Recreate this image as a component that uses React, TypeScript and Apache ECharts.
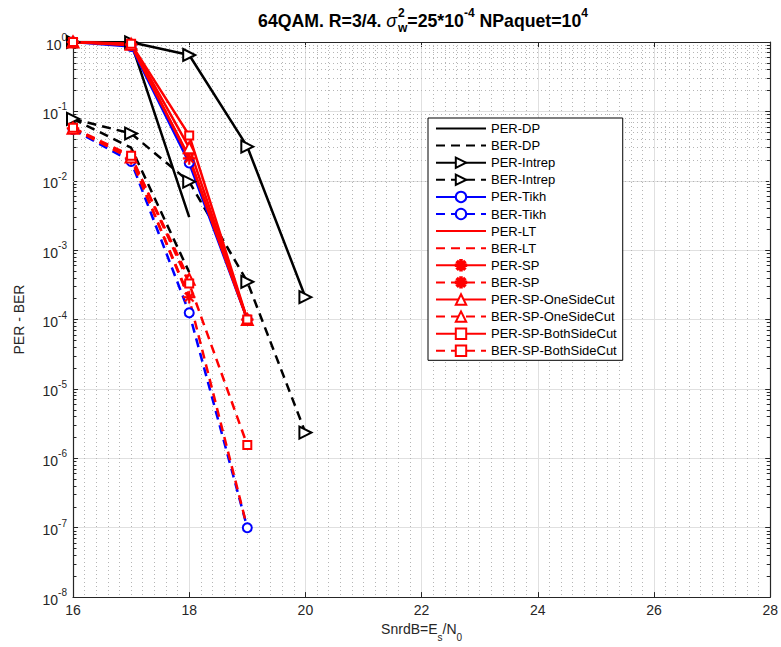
import React, { useEffect, useRef } from 'react';
import * as echarts from 'echarts';

// ---------- data ----------
const snr = [16, 17, 18, 19, 20];
const perDP = [1.0, 0.98, 0.003];
const berDP = [0.078, 0.03, 4.8e-4];
const perIntrep = [1.0, 0.99, 0.65, 0.031, 2.1e-4];
const berIntrep = [0.078, 0.048, 0.0097, 3.5e-4, 2.35e-6];
const perTikh = [1.0, 0.86, 0.018, 1e-4];
const berTikh = [0.055, 0.019, 1.25e-4, 1e-7];
const perLT = [1.0, 0.9, 0.022, 1e-4];
const berLT = [0.057, 0.021, 2.0e-4, 1e-7];
const perSP = [1.0, 0.92, 0.021, 1e-4];
const berSP = [0.057, 0.021, 2.1e-4];
const perOne = [1.0, 0.93, 0.03, 1e-4];
const berOne = [0.057, 0.022, 3.8e-4];
const perBoth = [1.0, 0.94, 0.045, 1e-4];
const berBoth = [0.058, 0.023, 3.3e-4, 1.55e-6];

const xMin = 16;
const xMax = 28;
const xStep = 2;
const yMin = 1e-8;
const yMax = 1;
const decadeExps = [-8, -7, -6, -5, -4, -3, -2, -1];
const minorMultipliers = [2, 3, 4, 5, 6, 7, 8, 9];

const FONT = '"Liberation Sans", Arial, Helvetica, sans-serif';
const BLACK = '#000000';
const BLUE = '#0000ff';
const RED = '#ff0000';
const AX = '#262626';
const DASH = [9, 6];
const STAR =
  'path://M8.5,0L11.5,0L11.5,20L8.5,20Z M0,8.5L20,8.5L20,11.5L0,11.5Z M3.99,1.87L18.13,16.01L16.01,18.13L1.87,3.99Z M18.13,3.99L3.99,18.13L1.87,16.01L16.01,1.87Z';

function mk(
  name: string,
  values: number[],
  color: string,
  dashed: boolean,
  symbol: string | null,
  size = 10,
  rotate = 0,
  border = 2.5
) {
  return {
    name,
    type: 'line',
    z: 3,
    data: values.map((v, i) => [snr[i], v]),
    symbol: symbol || 'none',
    showSymbol: !!symbol,
    symbolSize: size,
    symbolRotate: rotate,
    lineStyle: { color, width: 2.5, type: dashed ? DASH : 'solid' },
    itemStyle: { color, borderColor: color, borderWidth: border },
    emphasis: { disabled: true },
  };
}

const minorY: number[] = [];
decadeExps.forEach((e) => minorMultipliers.forEach((m) => minorY.push(m * Math.pow(10, e))));

function buildTitle() {
  const ctx = document.createElement('canvas').getContext('2d')!;
  const meas = (t: string, f: string) => {
    ctx.font = f;
    return ctx.measureText(t).width;
  };
  const fMain = `bold 17.7px ${FONT}`;
  const fSig = `italic 17.7px ${FONT}`;
  const fSmall = `bold 12px ${FONT}`;
  const els: any[] = [];
  let x = 0;
  const add = (t: string, f: string, dy: number) => {
    els.push({ type: 'text', x, y: dy, style: { text: t, font: f, fill: '#000', align: 'left', verticalAlign: 'middle' } });
    x += meas(t, f);
  };
  add('64QAM. R=3/4. ', fMain, 0);
  add('σ', fSig, 0);
  const x0 = x + 1;
  els.push({ type: 'text', x: x0, y: -8, style: { text: '2', font: fSmall, fill: '#000', verticalAlign: 'middle' } });
  els.push({ type: 'text', x: x0, y: 7, style: { text: 'w', font: fSmall, fill: '#000', verticalAlign: 'middle' } });
  x += Math.max(meas('2', fSmall), meas('w', fSmall)) + 1;
  add('=25*10', fMain, 0);
  add('-4', fSmall, -8);
  add(' NPaquet=10', fMain, 0);
  add('4', fSmall, -8);
  return { type: 'group', x: 423 - x / 2, y: 21, children: els };
}

function buildOption() {
  const tickSegs: any[] = [];
  minorY.forEach((v) => {
    tickSegs.push([{ coord: [xMin, v] }, { coord: [xMin + 0.06, v] }]);
    tickSegs.push([{ coord: [xMax - 0.06, v] }, { coord: [xMax, v] }]);
  });
  const noSymbol = new Set(['PER-DP', 'BER-DP', 'PER-LT', 'BER-LT']);
  const series: any[] = [
    {
      name: '_grid',
      type: 'line',
      data: [],
      z: 1,
      silent: true,
      markLine: {
        silent: true,
        symbol: ['none', 'none'],
        label: { show: false },
        z: 1,
        lineStyle: { color: '#b5b5b5', type: [1, 3], width: 1 },
        data: minorY.map((v) => ({ yAxis: v })),
      },
    },
    {
      name: '_ticks',
      type: 'line',
      data: [],
      z: 2,
      silent: true,
      markLine: {
        silent: true,
        symbol: ['none', 'none'],
        label: { show: false },
        z: 2,
        lineStyle: { color: AX, type: 'solid', width: 1 },
        data: tickSegs,
      },
    },
    mk('PER-DP', perDP, BLACK, false, null),
    mk('BER-DP', berDP, BLACK, true, null),
    mk('PER-Intrep', perIntrep, BLACK, false, 'emptyTriangle', 12, -90),
    mk('BER-Intrep', berIntrep, BLACK, true, 'emptyTriangle', 12, -90),
    mk('PER-Tikh', perTikh, BLUE, false, 'emptyCircle', 9),
    mk('BER-Tikh', berTikh, BLUE, true, 'emptyCircle', 9),
    mk('PER-LT', perLT, RED, false, null),
    mk('BER-LT', berLT, RED, true, null),
    mk('PER-SP', perSP, RED, false, STAR, 12, 0, 0.5),
    mk('BER-SP', berSP, RED, true, STAR, 12, 0, 0.5),
    mk('PER-SP-OneSideCut', perOne, RED, false, 'emptyTriangle', 11),
    mk('BER-SP-OneSideCut', berOne, RED, true, 'emptyTriangle', 11),
    mk('PER-SP-BothSideCut', perBoth, RED, false, 'emptyRect', 8),
    mk('BER-SP-BothSideCut', berBoth, RED, true, 'emptyRect', 8),
  ];
  const legendData = series
    .filter((s) => !s.name.startsWith('_'))
    .map((s) => (noSymbol.has(s.name) ? { name: s.name, itemStyle: { opacity: 0 } } : { name: s.name }));

  const yLabelRich = {
    b: { fontSize: 14, fontFamily: FONT, color: AX, verticalAlign: 'bottom', lineHeight: 19 },
    s: { fontSize: 10, fontFamily: FONT, color: AX, verticalAlign: 'top', lineHeight: 19 },
  };

  return {
    animation: false,
    backgroundColor: '#ffffff',
    grid: { left: 73, right: 4, top: 42, bottom: 49, containLabel: false },
    graphic: [buildTitle()],
    legend: {
      data: legendData,
      orient: 'vertical',
      left: 428,
      top: 118,
      padding: [4, 6, 3, 7],
      itemWidth: 50,
      itemHeight: 13,
      itemGap: 4.1,
      borderColor: '#000',
      borderWidth: 1,
      backgroundColor: '#ffffff',
      selectedMode: false,
      textStyle: { fontSize: 13, fontFamily: FONT, color: '#000', lineHeight: 13 },
      z: 10,
    },
    xAxis: [
      {
        type: 'value',
        min: xMin,
        max: xMax,
        interval: xStep,
        name: '{n|SnrdB=E}{d|s}{n|/N}{d|0}',
        nameLocation: 'middle',
        nameGap: 24,
        nameTextStyle: {
          rich: {
            n: { fontSize: 14, fontFamily: FONT, color: AX, verticalAlign: 'top', lineHeight: 20 },
            d: { fontSize: 10, fontFamily: FONT, color: AX, verticalAlign: 'bottom', lineHeight: 20 },
          },
        },
        axisLine: { show: true, onZero: false, lineStyle: { color: AX, width: 1.2 } },
        axisTick: { show: true, inside: true, length: 5, lineStyle: { color: AX } },
        axisLabel: { fontSize: 14, fontFamily: FONT, color: AX, margin: 6 },
        splitLine: { show: true, lineStyle: { color: '#e0e0e0', width: 1 } },
        minorTick: { show: false, splitNumber: 10 },
        minorSplitLine: { show: true, lineStyle: { color: '#b5b5b5', type: [1, 3], width: 1 } },
      },
      {
        type: 'value',
        position: 'top',
        min: xMin,
        max: xMax,
        interval: xStep,
        axisLine: { show: true, onZero: false, lineStyle: { color: AX, width: 1.2 } },
        axisTick: { show: true, inside: true, length: 5, lineStyle: { color: AX } },
        axisLabel: { show: false },
        splitLine: { show: false },
      },
    ],
    yAxis: [
      {
        type: 'log',
        logBase: 10,
        min: yMin,
        max: yMax,
        splitNumber: 8,
        name: 'PER - BER',
        nameLocation: 'middle',
        nameGap: 47,
        nameTextStyle: { fontSize: 14, fontFamily: FONT, color: AX },
        axisLine: { show: true, onZero: false, lineStyle: { color: AX, width: 1.2 } },
        axisTick: { show: true, inside: true, length: 5, lineStyle: { color: AX } },
        axisLabel: {
          margin: 6,
          formatter: (v: number) => `{b|10}{s|${Math.round(Math.log10(v))}}`,
          rich: yLabelRich,
        },
        splitLine: { show: true, lineStyle: { color: '#e0e0e0', width: 1 } },
      },
      {
        type: 'log',
        logBase: 10,
        min: yMin,
        max: yMax,
        splitNumber: 8,
        position: 'right',
        axisLine: { show: true, onZero: false, lineStyle: { color: AX, width: 1.2 } },
        axisTick: { show: true, inside: true, length: 5, lineStyle: { color: AX } },
        axisLabel: { show: false },
        splitLine: { show: false },
      },
    ],
    series,
  };
}

export default function App() {
  const ref = useRef<HTMLDivElement>(null);
  useEffect(() => {
    const chart = echarts.init(ref.current!, null, { renderer: 'svg' });
    chart.setOption(buildOption() as any);
    return () => chart.dispose();
  }, []);
  return <div ref={ref} style={{ position: 'fixed', left: 0, top: 0, width: 781, height: 647 }} />;
}
